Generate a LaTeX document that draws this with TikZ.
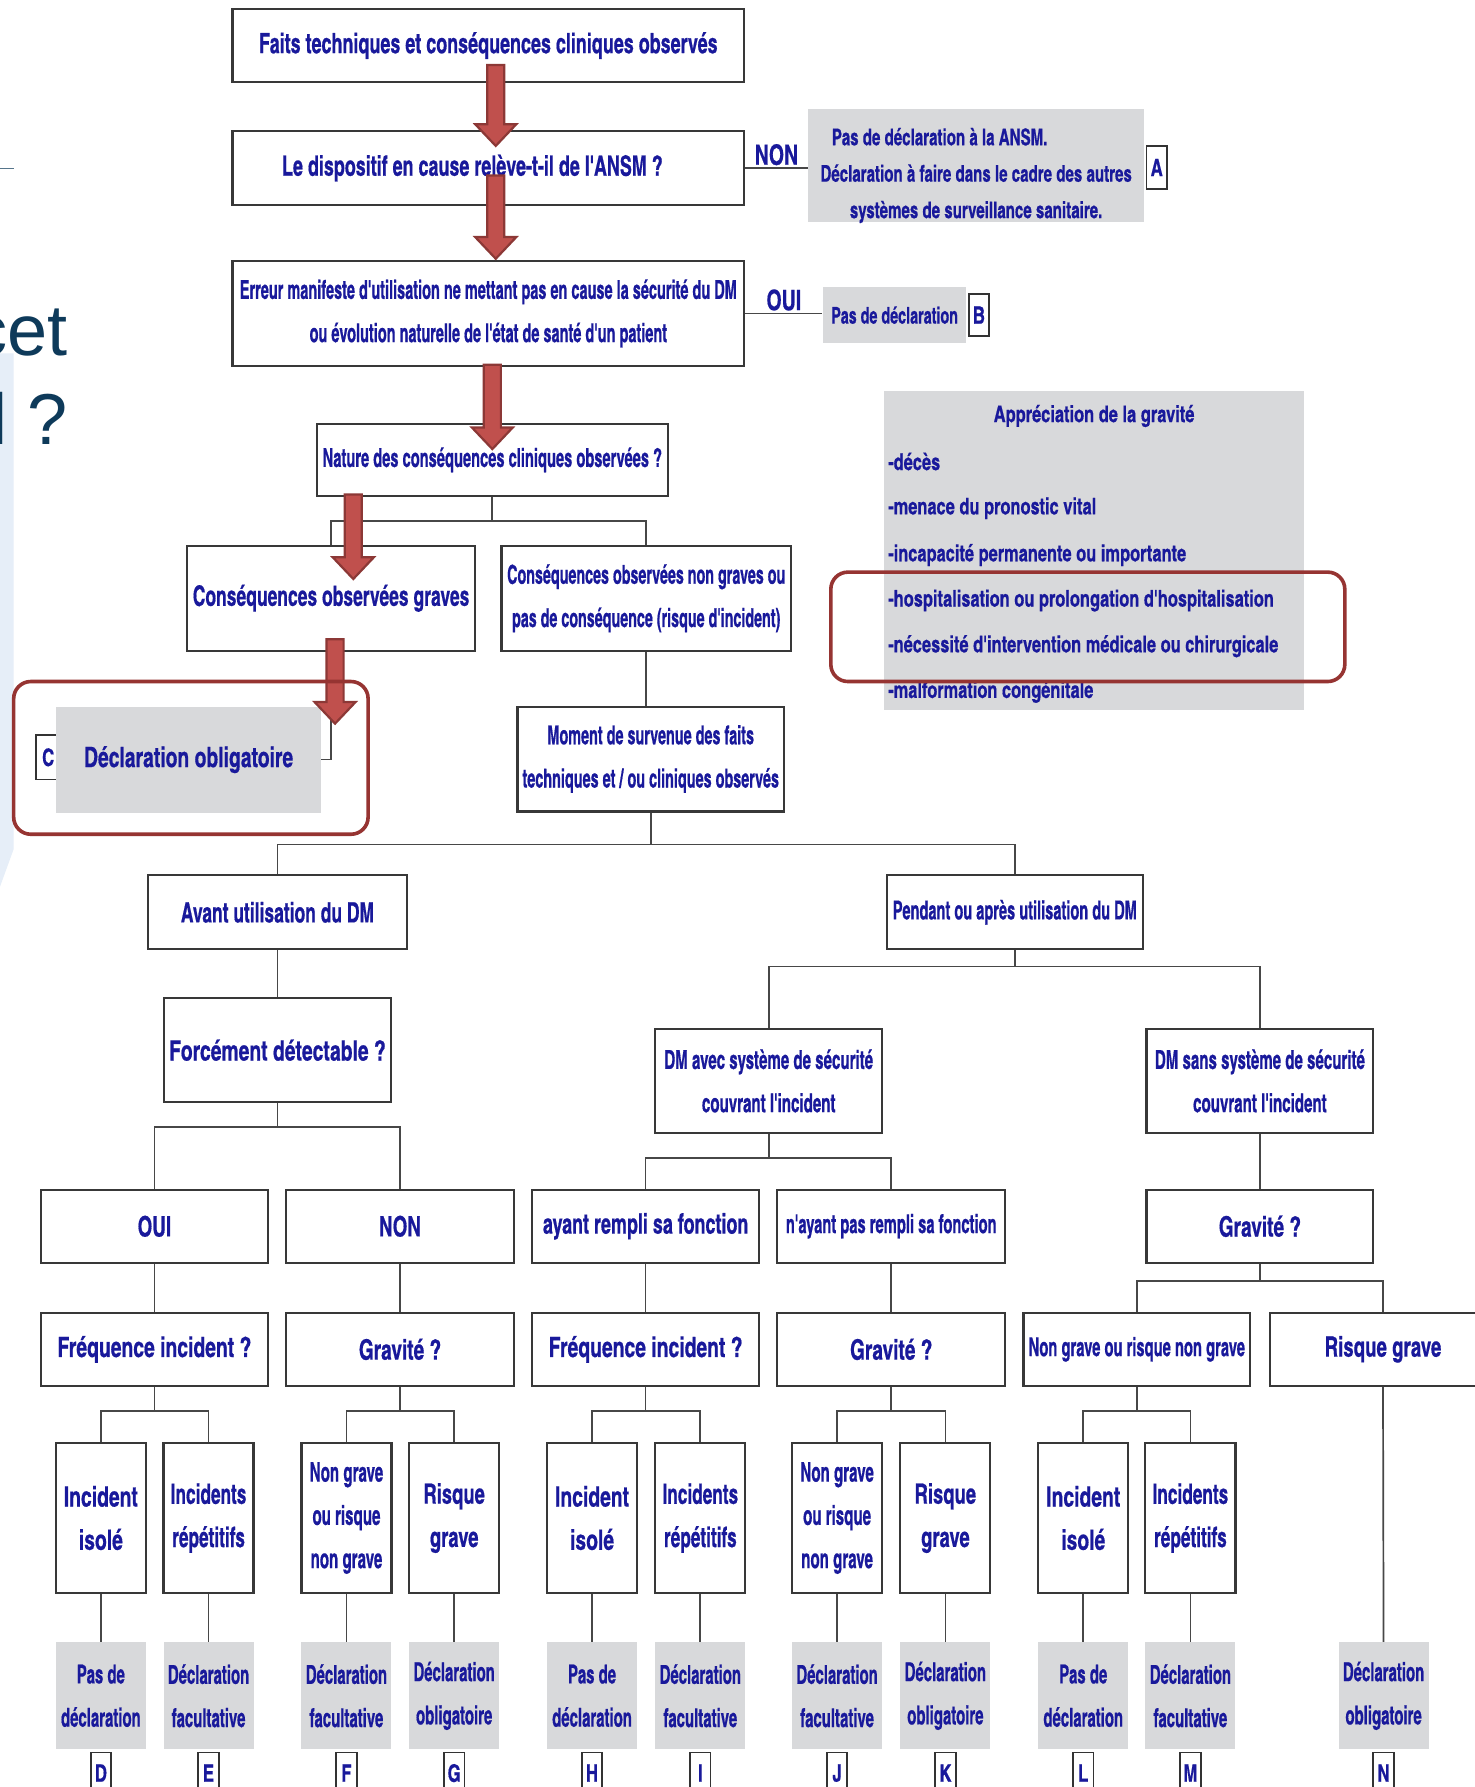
\documentclass[tikz,border=0pt]{standalone}
\usepackage{fontspec}
\newfontfamily\cnfont[FakeBold=0.5]{texgyreheroscn-bold.otf}
\newfontfamily\slidefont{Liberation Sans}
\usetikzlibrary{calc}
\definecolor{txtblue}{RGB}{25,25,155}
\definecolor{greyfill}{RGB}{216,217,219}
\definecolor{arrowfill}{RGB}{192,80,77}
\definecolor{arrowedge}{RGB}{140,56,54}
\definecolor{ringred}{RGB}{150,52,50}
\definecolor{slideblue}{RGB}{14,58,90}
\definecolor{panelblue}{RGB}{230,238,248}
\tikzset{
  tx/.style 2 args={font=\cnfont\addfontfeatures{FakeStretch=#2}\fontsize{#1}{21.6}\selectfont},
  wh/.style 2 args={minimum width=#1*0.02cm, minimum height=#2*0.02cm},
  box/.style={draw=black!78, line width=1.1pt, fill=white, text=txtblue, align=center, inner sep=0pt},
  greybox/.style={fill=greyfill, text=txtblue, align=center, inner sep=0pt},
  letter/.style={draw=black!80, line width=0.9pt, fill=white, text=txtblue, inner sep=0pt, tx={12}{0.85}},
  gitem/.style={anchor=west, text=txtblue, inner sep=0pt, tx={11.5}{0.87}},
  lbl/.style={text=txtblue, inner sep=1pt, tx={14}{0.85}},
  link/.style={draw=black!72, line width=0.85pt},
  redarrow/.style={fill=arrowfill, draw=arrowedge, line width=1.1pt},
  ring/.style={draw=ringred, line width=1.8pt, rounded corners=0.3cm},
  slidetext/.style={text=slideblue, inner sep=0pt, font=\slidefont\fontsize{36}{40}\selectfont},
}
\newcommand{\fatarrow}[2]{%
  \filldraw[redarrow] let \p1=(#1), \p2=(#2) in
    (\x2-0.15cm,\y1) -- (\x2+0.15cm,\y1) -- (\x2+0.15cm,\y2+0.38cm)
    -- (\x2+0.36cm,\y2+0.38cm) -- (\x2,\y2) -- (\x2-0.36cm,\y2+0.38cm)
    -- (\x2-0.15cm,\y2+0.38cm) -- cycle;}
\begin{document}
\begin{tikzpicture}[x=0.02cm, y=-0.02cm]
\fill[white] (0,0) rectangle (1294,1568);
\useasboundingbox (0,0) rectangle (1294,1568);

\fill[panelblue] (0,310) -- (12,310) -- (12,745) -- (0,778) -- cycle;
\draw[draw=slideblue!70, line width=0.6pt] (0,148) -- (12,148);
\node[slidetext, anchor=base east] (cet) at (60,312) {cet};
\node[slidetext, anchor=base east] (quest) at (60,390) {l ?};

\node[box, wh={449}{64}, tx={14}{0.78}] (faits) at (428.5,40) {Faits techniques et conséquences cliniques observés};
\node[box, wh={449}{65}, tx={14}{0.78}] (ansm) at (428.5,147.5) {Le dispositif en cause relève-t-il de l'ANSM ?\hspace*{0.56cm}};
\node[box, wh={449}{92}, tx={13}{0.68}] (erreur) at (428.5,275) {Erreur manifeste d'utilisation ne mettant pas en cause la sécurité du DM\\ou évolution naturelle de l'état de santé d'un patient};

\node[greybox, wh={295}{99}] (nona) at (856.5,145.5) {};
\node[text=txtblue, align=center, inner sep=0pt, tx={11.5}{0.8}] (nonat) at (856.5,154) {Pas de déclaration à la ANSM.\hspace*{1.28cm}\\[-3.4pt]Déclaration à faire dans le cadre des autres\\[-3.4pt]systèmes de surveillance sanitaire.};
\node[letter, wh={18}{38}] (la) at (1015,147) {A};
\draw[link] (ansm.east) -- node[lbl, above] {NON} (ansm.east -| nona.west);

\node[greybox, wh={126}{49}, tx={11.5}{0.76}] (nonb) at (785,276.5) {Pas de déclaration};
\node[letter, wh={18}{37}] (lb) at (859,276.5) {B};
\draw[link] (erreur.east) -- node[lbl, above] {OUI} (erreur.east -| nonb.west);

\node[greybox, wh={368}{280}] (grav) at (960,483) {};
\node[text=txtblue, inner sep=0pt, tx={11.5}{0.87}] (gravt) at (960,365) {Appréciation de la gravité};
\node[gitem] (g1) at (779,405) {-décès};
\node[gitem] (g2) at (779,446) {-menace du pronostic vital};
\node[gitem] (g3) at (779,487) {-incapacité permanente ou importante};
\node[gitem] (g4) at (779,527) {-hospitalisation ou prolongation d'hospitalisation};
\node[gitem] (g5) at (779,567) {-nécessité d'intervention médicale ou chirurgicale};
\node[gitem] (g6) at (779,607) {-malformation congénitale};

\node[box, wh={308}{63}, tx={13}{0.687}] (nature) at (432,403.5) {Nature des conséquences cliniques observées ?};
\node[box, wh={253}{92}, tx={14}{0.76}] (graves) at (290.5,525) {Conséquences observées graves};
\node[box, wh={254}{92}, tx={13}{0.67}] (nongraves) at (567,525) {Conséquences observées non graves ou\\pas de conséquence (risque d'incident)};
\draw[link] (nature.south) -- ++(0,21) -| (graves.north);
\draw[link] (nature.south) -- ++(0,21) -| (nongraves.north);

\node[letter, wh={21}{39}, anchor=west] (lc) at (31,664.5) {C};
\draw[link] (graves.south) |- (165,666.5);
\node[greybox, wh={233}{93}, tx={14}{0.84}] (oblig) at (165.5,666.5) {Déclaration obligatoire};

\node[box, wh={234}{92}, tx={13}{0.675}] (moment) at (571,666) {Moment de survenue des faits\\techniques et / ou cliniques observés};
\draw[link] (nongraves.south) -- (nongraves.south |- moment.north);

\node[box, wh={227}{65}, tx={14}{0.76}] (avant) at (243.5,800.5) {Avant utilisation du DM};
\node[box, wh={225}{65}, tx={13}{0.684}] (pendant) at (890.5,800.5) {Pendant ou après utilisation du DM};
\draw[link] (moment.south) -- ++(0,28) -| (avant.north);
\draw[link] (moment.south) -- ++(0,28) -| (pendant.north);

\node[box, wh={199}{91}, tx={14}{0.84}] (detect) at (243.5,921.5) {Forcément détectable ?};
\node[box, wh={199}{91}, tx={13}{0.707}] (avec) at (674.5,948.5) {DM avec système de sécurité\\couvrant l'incident};
\node[box, wh={199}{91}, tx={13}{0.707}] (sans) at (1105.5,948.5) {DM sans système de sécurité\\couvrant l'incident};
\draw[link] (avant.south) -- (detect.north);
\draw[link] (pendant.south) -- ++(0,14) -| (avec.north);
\draw[link] (pendant.south) -- ++(0,14) -| (sans.north);

\node[box, wh={199}{64}, tx={14}{0.82}] (oui) at (135.5,1076) {OUI};
\node[box, wh={200}{64}, tx={14}{0.82}] (non) at (351,1076) {NON};
\node[box, wh={199}{64}, tx={14}{0.78}] (rempli) at (566.5,1076) {ayant rempli sa fonction};
\node[box, wh={200}{64}, tx={13}{0.69}] (nonrempli) at (782,1076) {n'ayant pas rempli sa fonction};
\node[box, wh={199}{64}, tx={14}{0.83}] (gravsans) at (1105.5,1076) {Gravité ?};
\draw[link] (detect.south) -- ++(0,21) -| (oui.north);
\draw[link] (detect.south) -- ++(0,21) -| (non.north);
\draw[link] (avec.south) -- ++(0,21) -| (rempli.north);
\draw[link] (avec.south) -- ++(0,21) -| (nonrempli.north);
\draw[link] (sans.south) -- (gravsans.north);

\node[box, wh={199}{64}, tx={14}{0.84}] (freqa) at (135.5,1184) {Fréquence incident ?};
\node[box, wh={200}{64}, tx={14}{0.83}] (gravb) at (351,1184) {Gravité ?};
\node[box, wh={199}{64}, tx={14}{0.84}] (freqc) at (566.5,1184) {Fréquence incident ?};
\node[box, wh={200}{64}, tx={14}{0.83}] (gravd) at (782,1184) {Gravité ?};
\node[box, wh={199}{64}, tx={13}{0.69}] (ngrave) at (997.5,1184) {Non grave ou risque non grave};
\node[box, wh={199}{64}, tx={14}{0.81}] (rgrave) at (1213.5,1184) {Risque grave};
\draw[link] (oui.south) -- (freqa.north);
\draw[link] (non.south) -- (gravb.north);
\draw[link] (rempli.south) -- (freqc.north);
\draw[link] (nonrempli.south) -- (gravd.north);
\draw[link] (gravsans.south) -- ++(0,15) -| (ngrave.north);
\draw[link] (gravsans.south) -- ++(0,15) -| (rgrave.north);

\node[box, wh={79}{132}, tx={14}{0.84}] (isoa) at (88.5,1332) {Incident\\isolé};
\node[box, wh={79}{132}, tx={14}{0.75}] (repa) at (183,1332) {Incidents\\répétitifs};
\node[box, wh={79}{132}, tx={13.5}{0.68}] (ngb) at (304,1332) {Non grave\\ou risque\\non grave};
\node[box, wh={79}{132}, tx={14}{0.8}] (rgb) at (398.5,1332) {Risque\\grave};
\node[box, wh={79}{132}, tx={14}{0.84}] (isoc) at (519.5,1332) {Incident\\isolé};
\node[box, wh={79}{132}, tx={14}{0.75}] (repc) at (614.5,1332) {Incidents\\répétitifs};
\node[box, wh={79}{132}, tx={13.5}{0.68}] (ngd) at (734.5,1332) {Non grave\\ou risque\\non grave};
\node[box, wh={79}{132}, tx={14}{0.8}] (rgd) at (829.5,1332) {Risque\\grave};
\node[box, wh={79}{132}, tx={14}{0.84}] (isoe) at (950.5,1332) {Incident\\isolé};
\node[box, wh={79}{132}, tx={14}{0.75}] (repe) at (1044.5,1332) {Incidents\\répétitifs};
\draw[link] (freqa.south) -- ++(0,21) -| (isoa.north);
\draw[link] (freqa.south) -- ++(0,21) -| (repa.north);
\draw[link] (gravb.south) -- ++(0,21) -| (ngb.north);
\draw[link] (gravb.south) -- ++(0,21) -| (rgb.north);
\draw[link] (freqc.south) -- ++(0,21) -| (isoc.north);
\draw[link] (freqc.south) -- ++(0,21) -| (repc.north);
\draw[link] (gravd.south) -- ++(0,21) -| (ngd.north);
\draw[link] (gravd.south) -- ++(0,21) -| (rgd.north);
\draw[link] (ngrave.south) -- ++(0,21) -| (isoe.north);
\draw[link] (ngrave.south) -- ++(0,21) -| (repe.north);

\node[greybox, wh={79}{94}, tx={13}{0.7}] (decd) at (88.5,1488) {Pas de\\déclaration};
\node[greybox, wh={79}{94}, tx={13}{0.7}] (dece) at (183,1488) {Déclaration\\facultative};
\node[greybox, wh={79}{94}, tx={13}{0.7}] (decf) at (304,1488) {Déclaration\\facultative};
\node[greybox, wh={79}{94}, tx={13}{0.7}] (decg) at (398.5,1488) {Déclaration\\obligatoire};
\node[greybox, wh={79}{94}, tx={13}{0.7}] (dech) at (519.5,1488) {Pas de\\déclaration};
\node[greybox, wh={79}{94}, tx={13}{0.7}] (deci) at (614.5,1488) {Déclaration\\facultative};
\node[greybox, wh={79}{94}, tx={13}{0.7}] (decj) at (734.5,1488) {Déclaration\\facultative};
\node[greybox, wh={79}{94}, tx={13}{0.7}] (deck) at (829.5,1488) {Déclaration\\obligatoire};
\node[greybox, wh={79}{94}, tx={13}{0.7}] (decl) at (950.5,1488) {Pas de\\déclaration};
\node[greybox, wh={79}{94}, tx={13}{0.7}] (decm) at (1044.5,1488) {Déclaration\\facultative};
\node[greybox, wh={79}{94}, tx={13}{0.7}] (decn) at (1214,1488) {Déclaration\\obligatoire};
\draw[link] (isoa.south) -- (decd.north);
\draw[link] (repa.south) -- (dece.north);
\draw[link] (ngb.south) -- (decf.north);
\draw[link] (rgb.south) -- (decg.north);
\draw[link] (isoc.south) -- (dech.north);
\draw[link] (repc.south) -- (deci.north);
\draw[link] (ngd.south) -- (decj.north);
\draw[link] (rgd.south) -- (deck.north);
\draw[link] (isoe.south) -- (decl.north);
\draw[link] (repe.south) -- (decm.north);
\draw[link] (rgrave.south) -- (decn.north);

\node[letter, wh={18}{36}, anchor=north] (ld) at (88.5,1537) {D};
\node[letter, wh={18}{36}, anchor=north] (le) at (183,1537) {E};
\node[letter, wh={18}{36}, anchor=north] (lf) at (304,1537) {F};
\node[letter, wh={18}{36}, anchor=north] (lg) at (398.5,1537) {G};
\node[letter, wh={18}{36}, anchor=north] (lh) at (519.5,1537) {H};
\node[letter, wh={18}{36}, anchor=north] (li) at (614.5,1537) {I};
\node[letter, wh={18}{36}, anchor=north] (lj) at (734.5,1537) {J};
\node[letter, wh={18}{36}, anchor=north] (lk) at (829.5,1537) {K};
\node[letter, wh={18}{36}, anchor=north] (ll) at (950.5,1537) {L};
\node[letter, wh={18}{36}, anchor=north] (lm) at (1044.5,1537) {M};
\node[letter, wh={18}{36}, anchor=north] (ln) at (1214,1537) {N};

\fatarrow{[yshift=0.32cm]faits.south}{[xshift=0.13cm,yshift=-0.28cm]ansm.north}
\fatarrow{[yshift=0.54cm]ansm.south}{[xshift=0.13cm,yshift=0.02cm]erreur.north}
\fatarrow{[yshift=0.04cm]erreur.south}{[yshift=-0.46cm]nature.north}
\fatarrow{[yshift=0.04cm]nature.south}{[xshift=0.39cm,yshift=-0.6cm]graves.north}
\fatarrow{[yshift=0.22cm]graves.south}{[xshift=0.07cm,yshift=-1.26cm]graves.south}

\draw[ring] (729,502) rectangle (1180,598);
\draw[ring] (12,598) rectangle (323,732);
\end{tikzpicture}
\end{document}
